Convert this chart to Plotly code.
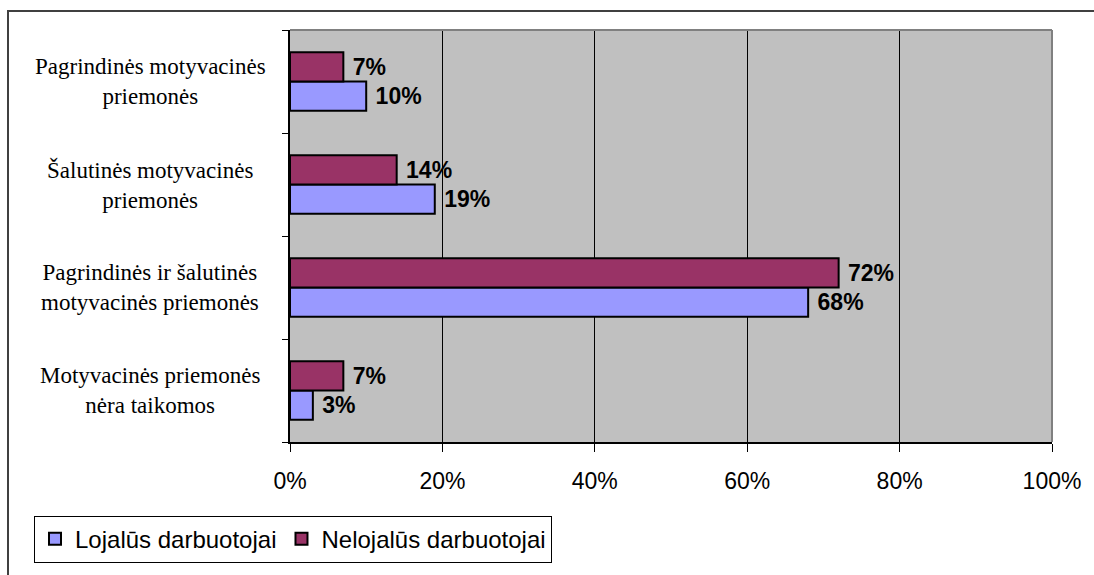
import plotly.graph_objects as go

# Categories listed bottom-to-top (Plotly category axis order)
categories = [
    "Motyvacinės priemonės<br>nėra taikomos",
    "Pagrindinės ir šalutinės<br>motyvacinės priemonės",
    "Šalutinės motyvacinės<br>priemonės",
    "Pagrindinės motyvacinės<br>priemonės",
]
lojalus = [3, 68, 19, 10]
nelojalus = [7, 72, 14, 7]
series_names = ["Lojalūs darbuotojai", "Nelojalūs darbuotojai"]
x_ticks = [0, 20, 40, 60, 80, 100]
x_tick_labels = [f"{v}%" for v in x_ticks]

W, H = 1094, 575
L, R, T, B = 290, 42, 30, 131
pw, ph = W - L - R, H - T - B

def px_x(p):
    return (p - L) / pw

def px_y(p):
    return (H - B - p) / ph

sans = "Liberation Sans"
serif = "Liberation Serif"

fig = go.Figure()
for name, vals, col in [(series_names[0], lojalus, "#9999FF"),
                        (series_names[1], nelojalus, "#993366")]:
    fig.add_trace(go.Bar(
        y=categories, x=vals, name=name, orientation="h",
        marker=dict(color=col, line=dict(color="black", width=2)),
        text=[f"\u00a0{v}%" for v in vals], textposition="outside",
        textfont=dict(family=sans, size=23, color="black", weight="bold"),
        constraintext="none", cliponaxis=False,
    ))

annotations = []
for c in categories:
    annotations.append(dict(
        x=px_x(150), xref="paper", y=c, yref="y", text=c, showarrow=False,
        xanchor="center", yanchor="middle", align="center",
        font=dict(family=serif, size=23, color="black"),
    ))

shapes = [
    # outer chart border
    dict(type="rect", xref="paper", yref="paper",
         x0=px_x(8), x1=px_x(1110), y0=px_y(600), y1=px_y(11),
         line=dict(color="#404040", width=2), layer="above"),
    # plot area top and right gray border
    dict(type="line", xref="paper", yref="paper", x0=0, x1=1, y0=1, y1=1,
         line=dict(color="#808080", width=2), layer="above"),
    dict(type="line", xref="paper", yref="paper", x0=1, x1=1, y0=0, y1=1,
         line=dict(color="#808080", width=2), layer="above"),
]

fig.update_layout(
    width=W, height=H,
    margin=dict(l=L, r=R, t=T, b=B, pad=0),
    paper_bgcolor="white", plot_bgcolor="#C0C0C0",
    font=dict(family=sans, size=23, color="black"),
    barmode="group", bargap=0.43, bargroupgap=0,
    showlegend=True,
    legend=dict(orientation="h", x=px_x(34), y=px_y(518),
                xanchor="left", yanchor="top",
                bgcolor="white", bordercolor="black", borderwidth=1,
                font=dict(family=sans, size=24, color="black"),
                itemwidth=30, traceorder="normal"),
    xaxis=dict(range=[0, 100], tickmode="array", tickvals=x_ticks,
               ticktext=x_tick_labels,
               showgrid=True, gridcolor="black", gridwidth=1,
               showline=True, linecolor="black", linewidth=2,
               ticks="outside", ticklen=8, tickcolor="black",
               ticklabelstandoff=9,
               tickfont=dict(family=sans, size=23, color="black"),
               zeroline=False, fixedrange=True),
    yaxis=dict(categoryorder="array", categoryarray=categories,
               showticklabels=False, showgrid=False,
               showline=True, linecolor="black", linewidth=2,
               ticks="outside", ticklen=6, tickcolor="black",
               tickson="boundaries", fixedrange=True),
    annotations=annotations, shapes=shapes,
)

fig.write_html("out.html")
